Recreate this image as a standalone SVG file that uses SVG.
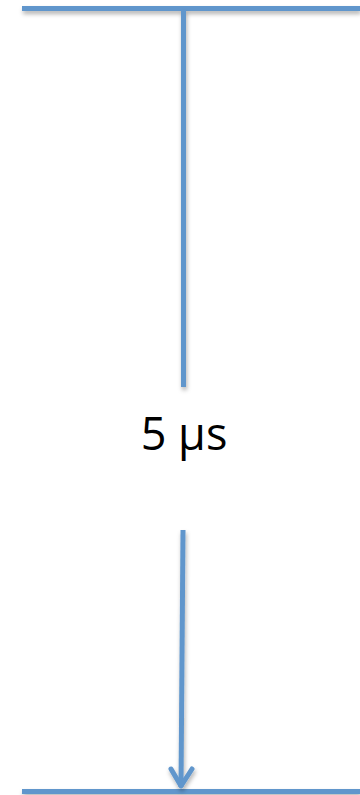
<svg xmlns="http://www.w3.org/2000/svg" width="360" height="795" viewBox="0 0 360 795">
<defs>
<style>
.ln{stroke:#6096cc;stroke-width:5;fill:none;}
.lbl{font-family:"Open Sans","Liberation Sans",sans-serif;font-size:45px;fill:#000;}
</style>
<filter id="sh" filterUnits="userSpaceOnUse" x="0" y="0" width="360" height="795">
<feDropShadow dx="1" dy="3" stdDeviation="2" flood-color="#000" flood-opacity="0.3"/>
</filter>
</defs>
<g id="top-line" filter="url(#sh)"><line class="ln" x1="22" y1="8.5" x2="360" y2="8.5"/></g>
<g id="bottom-line" filter="url(#sh)"><line class="ln" x1="22" y1="791.5" x2="360" y2="791.5"/></g>
<g id="connectors" filter="url(#sh)">
<line class="ln" x1="183.5" y1="10" x2="183.5" y2="387"/>
<line class="ln" x1="183" y1="530" x2="181" y2="787"/>
<polyline class="ln" points="171,769 181,786 192,769" stroke-linecap="round" stroke-linejoin="round"/>
</g>
<g id="label"><text class="lbl" x="184" y="450" text-anchor="middle">5 µs</text></g>
</svg>
